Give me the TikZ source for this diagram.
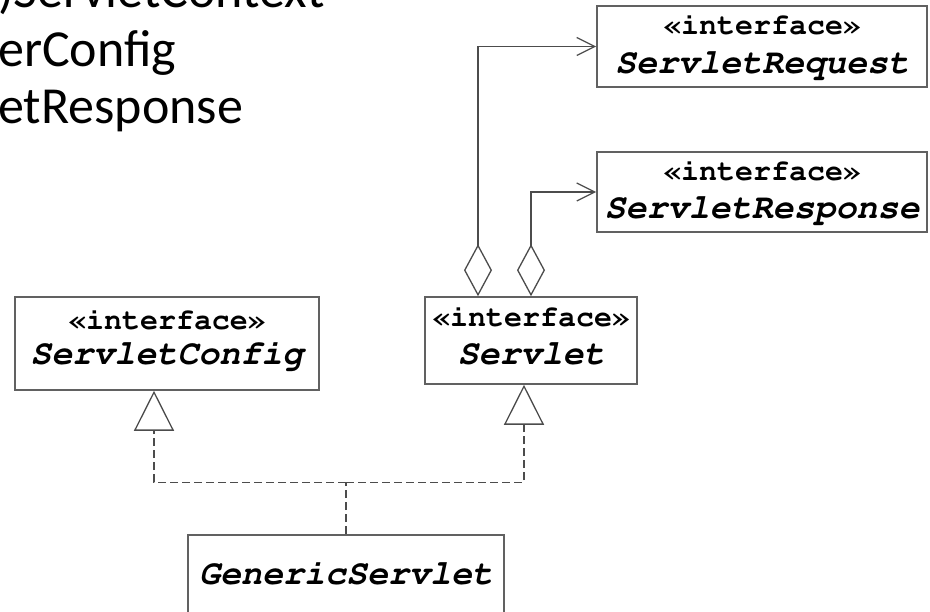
\documentclass[tikz,border=0pt]{standalone}
\usepackage[T1]{fontenc}
\usepackage{fontspec}
\newfontfamily\slidefont{Carlito}
\newcommand\courierfont{\fontencoding{T1}\fontfamily{pcr}\fontseries{b}\selectfont}
\usetikzlibrary{arrows.meta}
\tikzset{
  umlbox/.style={draw=black!62, line width=1.6pt, fill=white, inner sep=0pt},
  stereo/.style={anchor=base, inner sep=0pt, font=\courierfont\fontshape{n}\fontsize{30}{30}\selectfont},
  cname/.style={anchor=base, inner sep=0pt, font=\courierfont\fontshape{sl}\fontsize{35}{35}\selectfont},
  slideline/.style={anchor=base west, inner sep=0pt, font=\slidefont\fontsize{52}{57}\selectfont},
  wire/.style={draw=black!70, line width=1.3pt},
  aggr/.style={wire, {Diamond[open, length=52pt, width=28pt, fill=white]}-{Straight Barb[length=18pt, width=18pt]}},
  realize/.style={wire, dash pattern=on 8pt off 4pt},
  realizetip/.style={realize, -{Triangle[open, length=40pt, width=40pt, fill=white]}}
}
\newcommand\stereotext{\guillemotleft interface\guillemotright}
\begin{document}
\begin{tikzpicture}[x=1pt, y=-1pt]
\useasboundingbox (0,0) rectangle (930,612);
\clip (0,0) rectangle (930,612);
\fill[white] (0,0) rectangle (930,612);

% slide text at the upper left
\node[slideline] (t1) at (-2,8) {)ServletContext};
\node[slideline] (t2) at (-2,67) {erConfig};
\node[slideline] (t3) at (-2,124) {etResponse};

% boxes
\node[umlbox, minimum width=330pt, minimum height=81pt] (req) at (762,46.5) {};
\node[stereo] (reqS) at (762,35) {\stereotext};
\node[cname] (reqN) at (762,74) {ServletRequest};

\node[umlbox, minimum width=330pt, minimum height=80pt] (resp) at (762,192) {};
\node[stereo] (respS) at (762,181) {\stereotext};
\node[cname] (respN) at (762,219) {ServletResponse};

\node[umlbox, minimum width=304pt, minimum height=93pt] (cfg) at (167,343.5) {};
\node[stereo] (cfgS) at (167,330) {\stereotext};
\node[cname] (cfgN) at (167,365) {ServletConfig};

\node[umlbox, minimum width=212pt, minimum height=87pt] (srv) at (531,340.5) {};
\node[stereo] (srvS) at (531,327) {\stereotext};
\node[cname] (srvN) at (531,365) {Servlet};

\node[umlbox, minimum width=316pt, minimum height=100pt] (gen) at (346,585) {};
\node[cname] (genN) at (346,584) {GenericServlet};

% aggregations from Servlet
\draw[aggr] ([xshift=-53pt]srv.north) |- (req.west);
\draw[aggr] (srv.north) |- (resp.west);

% realizations from GenericServlet
\coordinate (split) at ([yshift=52pt]gen.north);
\draw[realize] (gen.north) -- (split);
\draw[realizetip] (split) -| ([xshift=-13pt]cfg.south);
\draw[realizetip] (split) -| ([xshift=-7pt]srv.south);
\end{tikzpicture}
\end{document}
